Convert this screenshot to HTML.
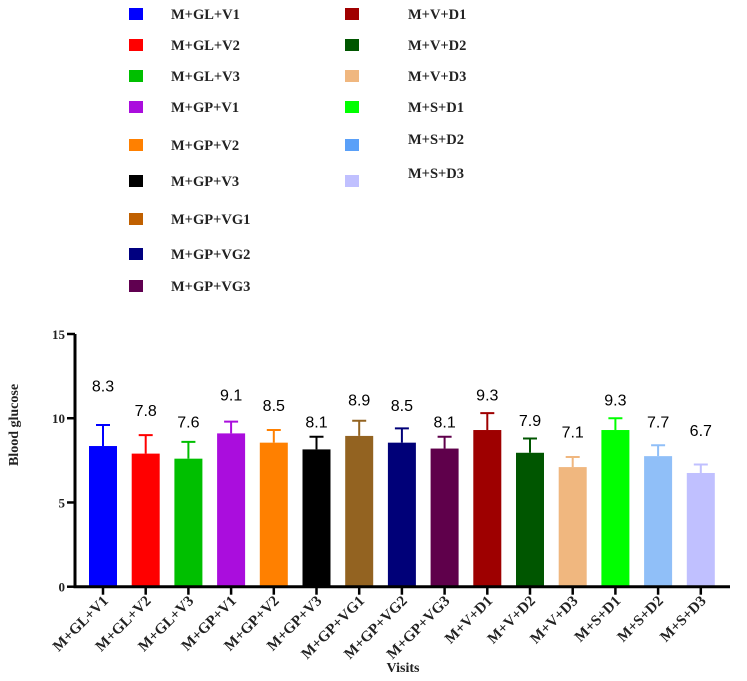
<!DOCTYPE html>
<html><head><meta charset="utf-8"><style>
html,body{margin:0;padding:0;background:#fff;}
svg{display:block;}
</style></head><body>
<svg id="chart" width="747" height="681" viewBox="0 0 747 681" xmlns="http://www.w3.org/2000/svg">
<g id="legend"></g>
<g id="plot"></g>
</svg>
<script>
const categories = ["M+GL+V1","M+GL+V2","M+GL+V3","M+GP+V1","M+GP+V2","M+GP+V3","M+GP+VG1","M+GP+VG2","M+GP+VG3","M+V+D1","M+V+D2","M+V+D3","M+S+D1","M+S+D2","M+S+D3"];
const values = [8.35,7.9,7.6,9.1,8.55,8.15,8.95,8.55,8.2,9.3,7.95,7.1,9.3,7.75,6.75];
const errTops = [9.6,9.0,8.6,9.8,9.3,8.9,9.85,9.4,8.9,10.3,8.8,7.7,10.0,8.4,7.25];
const printed = ["8.3","7.8","7.6","9.1","8.5","8.1","8.9","8.5","8.1","9.3","7.9","7.1","9.3","7.7","6.7"];
const labelLevels = [11.95,10.5,9.8,11.4,10.8,9.8,11.1,10.8,9.8,11.4,9.9,9.2,11.1,9.8,9.3];
const colors = ["#0000ff","#ff0000","#00bf00","#aa0ddd","#ff8000","#000000","#936321","#000078","#5f004b","#9e0000","#005600","#f0b77f","#00ff00","#90bff8","#c0c0ff"];
const legendColors = ["#0000ff","#ff0000","#00bf00","#aa0ddd","#ff8000","#000000","#c06000","#000080","#600050","#a00000","#005600","#f0b77f","#00ff00","#5aa0f8","#c0c0ff"];
const yTicks = [0,5,10,15];

const NS="http://www.w3.org/2000/svg";
const x0=75, x1=730, yBase=586.7, yTop=334;
const y = v => yBase - (yBase-yTop)*v/15;
const xc = i => 103 + i*42.7;
const bw = 28;
function mk(tag, attrs, parent){const e=document.createElementNS(NS,tag);for(const k in attrs)e.setAttribute(k,attrs[k]);parent.appendChild(e);return e;}
const plot=document.getElementById('plot');
const legend=document.getElementById('legend');
const serif='"Liberation Serif", serif';

categories.forEach((c,i)=>{
  const bar=mk('rect',{x:xc(i)-bw/2,y:y(values[i]),width:bw,height:yBase-y(values[i]),fill:colors[i]},plot);
  
  
  const eb=mk('path',{d:`M${xc(i)} ${y(values[i])}V${y(errTops[i])}M${xc(i)-7} ${y(errTops[i])}H${xc(i)+7}`,stroke:colors[i],'stroke-width':2,fill:'none'},plot);
  
  
  const t=mk('text',{x:xc(i),y:y(labelLevels[i])+6,'text-anchor':'middle','font-family':'"Liberation Sans", sans-serif','font-size':16,fill:'#000'},plot);
  t.textContent=printed[i];
  
  
  const tk=mk('line',{x1:xc(i),x2:xc(i),y1:yBase,y2:yBase+8,stroke:'#000','stroke-width':2.5},plot);
  
  
  const xl=mk('text',{transform:`translate(${xc(i)+6},${yBase+15}) rotate(-45)`,'text-anchor':'end','font-family':serif,'font-weight':'bold','font-size':15,fill:'#222'},plot);
  xl.textContent=c;
  
  
});
const ax=mk('path',{d:`M${x0} ${yTop}V${yBase}H${x1}`,stroke:'#000','stroke-width':3,fill:'none'},plot);


yTicks.forEach(v=>{
  const l=mk('line',{x1:x0-8,x2:x0,y1:y(v),y2:y(v),stroke:'#000','stroke-width':2.5},plot);
  
  
  const t=mk('text',{x:x0-10,y:y(v)+5,'text-anchor':'end','font-family':serif,'font-weight':'bold','font-size':13,fill:'#222'},plot);
  t.textContent=v;
  
  
});
const yt=mk('text',{transform:'translate(18,425) rotate(-90)','text-anchor':'middle','font-family':serif,'font-weight':'bold','font-size':14,fill:'#222'},plot);
yt.textContent='Blood glucose';


const xt=mk('text',{x:403,y:672,'text-anchor':'middle','font-family':serif,'font-weight':'bold','font-size':14,fill:'#222'},plot);
xt.textContent='Visits';



const legY=[14,45,76,107,145,181,219,254,286];
categories.forEach((c,i)=>{
  const col=i<9?0:1, r=i<9?i:i-9;
  const sx=col?345:129, tx=col?408:171;
  const cy=legY[r];
  const s=mk('rect',{x:sx,y:cy-6,width:14,height:12,fill:legendColors[i]},legend);
  
  
  const ty = col&&r===4 ? cy-6 : (col&&r===5 ? cy-8 : cy);
  const t=mk('text',{x:tx,y:ty+5,'font-family':serif,'font-weight':'bold','font-size':14.5,fill:'#222'},legend);
  t.textContent=c;
  
  
});
</script>
</body></html>
